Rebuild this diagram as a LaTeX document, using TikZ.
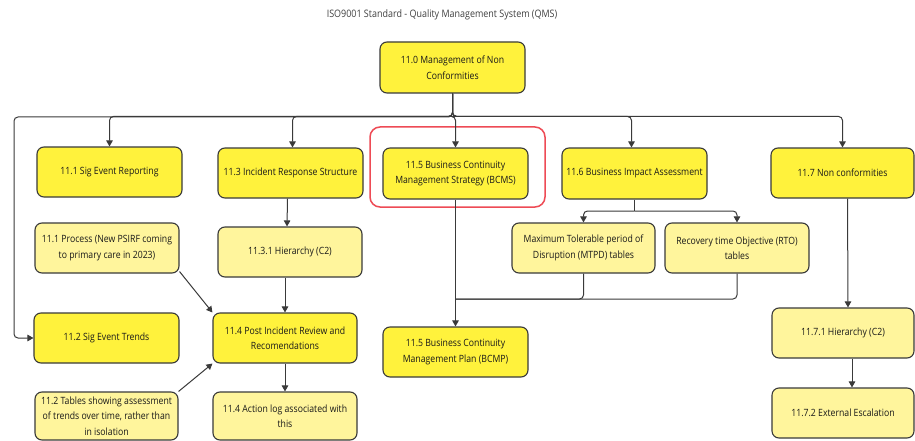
\documentclass[tikz,border=0pt]{standalone}
\usepackage{fontspec}
\setmainfont[FakeStretch=0.87]{Open Sans}
\usetikzlibrary{arrows.meta,calc}
\definecolor{bright}{HTML}{FFF23C}
\definecolor{pale}{HTML}{FFF59C}
\definecolor{edge}{HTML}{3A3A3A}
\definecolor{hlred}{HTML}{EE4B55}
\newcommand{\bx}[7]{%
  \node[#6, minimum width={(#4-#2)*1pt}, minimum height={(#5-#3)*1pt}]
    (#1) at ({(#2+#4)/2},{(#3+#5)/2}) {#7};}
\begin{document}
\begin{tikzpicture}[x=1pt,y=-1pt,
  box/.style={draw=edge, line width=1.1pt, rounded corners=7pt, align=center,
    inner sep=0pt, text=black!90, font=\fontsize{10}{15.5}\selectfont},
  hi/.style={box, fill=bright},
  lo/.style={box, fill=pale},
  arr/.style={draw=edge, line width=1pt, -{Triangle[length=6pt,width=6.5pt]}},
  ln/.style={draw=edge, line width=1pt},
  ]
\path[use as bounding box, fill=white] (0,0) rectangle (915,441);
\node[font=\fontsize{10.3}{12}\selectfont, text=black!75] (title) at (442,15)
  {ISO9001 Standard - Quality Management System (QMS)};
\node[draw=hlred, line width=1.5pt, rounded corners=10pt, minimum width=175pt,
  minimum height=80pt] (hl) at (457.5,167) {};
\bx{root}{380}{42}{525}{93}{hi}{11.0 Management of Non\\Conformities}
\bx{a}{37}{147}{182}{197}{hi}{11.1 Sig Event Reporting}
\bx{b}{218}{148}{363}{198}{hi}{11.3 Incident Response Structure}
\bx{c}{383}{148}{528}{199}{hi}{11.5 Business Continuity\\Management Strategy (BCMS)}
\bx{d}{562}{148}{707}{199}{hi}{11.6 Business Impact Assessment}
\bx{e}{771}{148}{914}{198}{hi}{11.7 Non conformities}
\bx{ap}{35}{223}{179}{273}{lo}{11.1 Process (New PSIRF coming\\to primary care in 2023)}
\bx{bh}{218}{227}{362}{277}{lo}{11.3.1 Hierarchy (C2)}
\bx{mt}{512}{223}{655}{273}{lo}{Maximum Tolerable period of\\Disruption (MTPD) tables}
\bx{rt}{665}{223}{809}{273}{lo}{Recovery time Objective (RTO)\\tables}
\bx{at}{34}{313}{179}{363}{hi}{11.2 Sig Event Trends}
\bx{pir}{213}{313}{357}{363}{hi}{11.4 Post Incident Review and\\Recomendations}
\bx{cp}{383}{327}{528}{377}{hi}{11.5 Business Continuity\\Management Plan (BCMP)}
\bx{eh}{772}{308}{914}{358}{lo}{11.7.1 Hierarchy (C2)}
\bx{tb}{35}{392}{178}{440}{lo}{11.2 Tables showing assessment\\of trends over time, rather than\\in isolation}
\bx{al}{213}{392}{357}{440}{lo}{11.4 Action log associated with\\this}
\bx{ee}{772}{388}{914}{438}{lo}{11.7.2 External Escalation}
% bus
\coordinate (lc) at (14,117);
\coordinate (jn) at (455.5,299);
\coordinate (sp) at (634.5,211);
\draw[arr, rounded corners=4pt] (root.south) |- (lc) |- (at.west);
\draw[arr, rounded corners=4pt] (root.south) |- ($(a.north)+(0,-30)$) -- (a.north);
\draw[arr, rounded corners=4pt] (root.south) |- ($(b.north)+(2,-31)$) -- ($(b.north)+(2,0)$);
\draw[arr, rounded corners=4pt] (root.south) |- ($(c.north)+(0,-31)$) -- (c.north);
\draw[arr, rounded corners=4pt] (root.south) |- ($(d.north)+(-3,-31)$) -- ($(d.north)+(-3,0)$);
\draw[arr, rounded corners=4pt] (root.south) |- ($(e.north)+(0,-31)$) -- (e.north);
\draw[arr] ($(b.south)+(-3,0)$) -- ($(bh.north)+(-3,0)$);
\draw[arr] (pir.north |- bh.south) -- (pir.north);
\draw[arr] ($(ap.south east)+(0,-2)$) -- (pir.north west);
\draw[arr] (tb.north east) -- (pir.south west);
\draw[arr] (pir.south) -- (al.north);
\draw[ln, rounded corners=4pt] (d.south) -- (sp);
\draw[arr, rounded corners=4pt] (sp) -| (mt.north);
\draw[arr, rounded corners=4pt] (sp) -| (rt.north);
\draw[ln, rounded corners=4pt] (mt.south) |- (jn);
\draw[ln, rounded corners=4pt] (rt.south) |- (jn);
\draw[arr] (c.south) -- (cp.north);
\draw[arr] ($(e.south)+(5,0)$) -- ($(eh.north)+(5,0)$);
\draw[arr] ($(eh.south)+(9,0)$) -- ($(ee.north)+(9,0)$);
\end{tikzpicture}
\end{document}
